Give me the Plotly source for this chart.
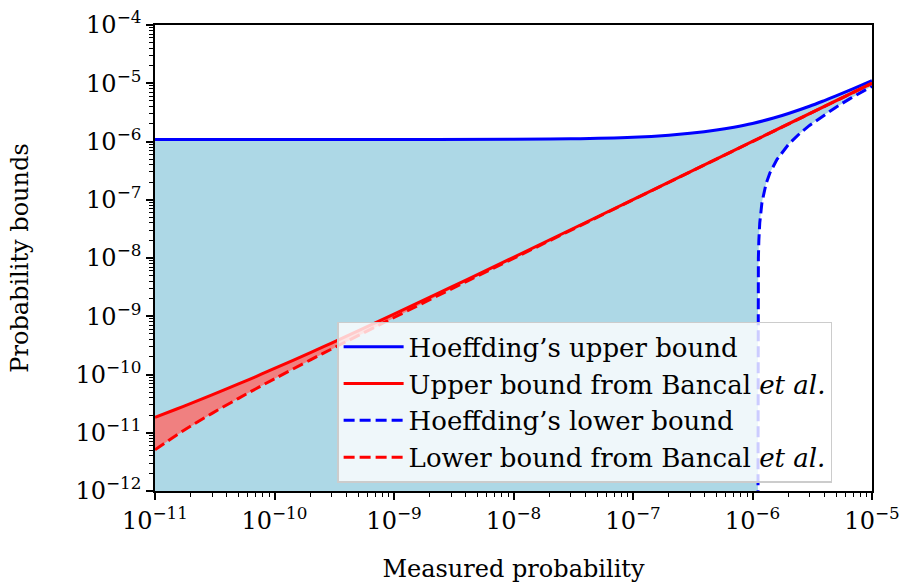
import plotly.graph_objects as go

# Measured probability grid and the two-sided bounds drawn over it
hoeff_x = [1e-11, 1e-10, 1e-9, 1e-8, 3e-8, 1e-7, 2e-7, 3e-7, 5e-7, 7e-7,
           1e-6, 1.5e-6, 2e-6, 3e-6, 4e-6, 5e-6, 7e-6, 1e-5]
hoeff_upper = [1.08e-6, 1.08e-6, 1.081e-6, 1.09e-6, 1.11e-6, 1.18e-6, 1.28e-6,
               1.38e-6, 1.57e-6, 1.76e-6, 2.04e-6, 2.53e-6, 3.03e-6, 4.03e-6,
               5.05e-6, 6.06e-6, 8.07e-6, 1.107e-5]

hoeff_lower_x = [1.1101e-6, 1.111e-6, 1.112e-6, 1.115e-6, 1.12e-6, 1.13e-6,
                 1.15e-6, 1.2e-6, 1.25e-6, 1.3e-6, 1.4e-6, 1.6e-6, 2.0e-6,
                 2.5e-6, 3e-6, 4e-6, 5e-6, 6.5e-6, 8e-6, 1e-5]
hoeff_lower = [1e-13, 1e-9, 2e-9, 5e-9, 1e-8, 2e-8, 4e-8, 9e-8, 1.4e-7, 1.9e-7,
               2.9e-7, 4.9e-7, 8.9e-7, 1.39e-6, 1.89e-6, 2.89e-6, 3.89e-6,
               5.39e-6, 6.89e-6, 8.89e-6]

bancal_x = [1e-11, 1.5e-11, 2e-11, 3e-11, 5e-11, 7e-11, 1e-10, 2e-10, 3e-10,
            5e-10, 1e-9, 3e-9, 1e-8, 1e-7, 1e-6, 1e-5]
bancal_upper = [1.84e-11, 2.53e-11, 3.19e-11, 4.46e-11, 6.88e-11, 9.23e-11,
                1.27e-10, 2.38e-10, 3.46e-10, 5.6e-10, 1.084e-9, 3.15e-9,
                1.027e-8, 1.008e-7, 1.003e-6, 1.001e-5]
bancal_lower = [5.1e-12, 9.0e-12, 1.31e-11, 2.15e-11, 3.9e-11, 5.7e-11,
                8.45e-11, 1.78e-10, 2.73e-10, 4.65e-10, 9.51e-10, 2.92e-9,
                9.85e-9, 9.95e-8, 9.98e-7, 9.99e-6]

x_exponents = [-11, -10, -9, -8, -7, -6, -5]
y_exponents = [-12, -11, -10, -9, -8, -7, -6, -5, -4]

FLOOR = 1e-13  # below the visible range, closes the shaded region at the bottom

BLUE = "#0000ff"
RED = "#ff0000"
FONT = "DejaVu Serif"
TICK_SIZE = 24
TEXT_SIZE = 24
LEGEND_SIZE = 26


def sci(e):
    return "10<sup>−%d</sup>" % abs(e)


def minor_ticks(exps):
    vals = []
    for e in exps[:-1]:
        for k in range(2, 10):
            vals.append(k * 10.0 ** e)
    return vals


fig = go.Figure()

# Region between Hoeffding's bounds
fill_x = hoeff_x + hoeff_lower_x[::-1] + [hoeff_x[0]]
fill_y = hoeff_upper + hoeff_lower[::-1] + [FLOOR]
fig.add_trace(go.Scatter(x=fill_x, y=fill_y, mode="lines", fill="toself",
                         fillcolor="#add8e6", line=dict(width=0),
                         showlegend=False, hoverinfo="skip"))

# Region between Bancal et al. bounds
fig.add_trace(go.Scatter(x=bancal_x + bancal_x[::-1],
                         y=bancal_upper + bancal_lower[::-1],
                         mode="lines", fill="toself", fillcolor="#f08080",
                         line=dict(width=0), showlegend=False, hoverinfo="skip"))

fig.add_trace(go.Scatter(x=hoeff_x, y=hoeff_upper, mode="lines",
                         line=dict(color=BLUE, width=3, shape="spline"),
                         name="Hoeffding’s upper bound", legendgroup="a"))
fig.add_trace(go.Scatter(x=bancal_x, y=bancal_upper, mode="lines",
                         line=dict(color=RED, width=3, shape="spline"),
                         name="Upper bound from Bancal <i>et al.</i>", legendgroup="b"))
fig.add_trace(go.Scatter(x=hoeff_lower_x, y=hoeff_lower, mode="lines",
                         line=dict(color=BLUE, width=3, dash="11px,5px"),
                         name="Hoeffding’s lower bound", legendgroup="c"))
fig.add_trace(go.Scatter(x=bancal_x, y=bancal_lower, mode="lines",
                         line=dict(color=RED, width=3, dash="11px,5px", shape="spline"),
                         name="Lower bound from Bancal <i>et al.</i>", legendgroup="d"))

axis_common = dict(
    type="log", showgrid=False, zeroline=False, automargin=False,
    showline=True, mirror=True, linecolor="black", linewidth=1.6,
    ticks="outside", ticklen=7, tickwidth=1.5, tickcolor="black",
    tickfont=dict(family=FONT, size=TICK_SIZE, color="black"),
    title_font=dict(family=FONT, size=TEXT_SIZE, color="black"),
)

fig.update_xaxes(
    **axis_common,
    range=[-11, -5],
    tickmode="array",
    tickvals=[10.0 ** e for e in x_exponents],
    ticktext=[sci(e) for e in x_exponents],
    minor=dict(tickmode="array", tickvals=minor_ticks(x_exponents),
               ticks="outside", ticklen=4, tickwidth=1, tickcolor="black"),
    title_text="Measured probability",
    title_standoff=28,
)
fig.update_yaxes(
    **axis_common,
    range=[-12, -4],
    tickmode="array",
    tickvals=[10.0 ** e for e in y_exponents],
    ticktext=[sci(e) for e in y_exponents],
    minor=dict(tickmode="array", tickvals=minor_ticks(y_exponents),
               ticks="outside", ticklen=4, tickwidth=1, tickcolor="black"),
    title_text="Probability bounds",
    title_standoff=40,
)

fig.update_layout(
    width=904, height=583,
    margin=dict(l=155, r=32, t=25, b=92),
    plot_bgcolor="white", paper_bgcolor="white",
    font=dict(family=FONT, size=TEXT_SIZE, color="black"),
    legend=dict(
        x=0.254, y=0.363, xanchor="left", yanchor="top",
        bgcolor="rgba(255,255,255,0.8)", bordercolor="#cccccc", borderwidth=1.5,
        font=dict(family=FONT, size=LEGEND_SIZE, color="black"),
        itemwidth=60, tracegroupgap=0, traceorder="grouped",
    ),
)

fig.write_html("out.html")
